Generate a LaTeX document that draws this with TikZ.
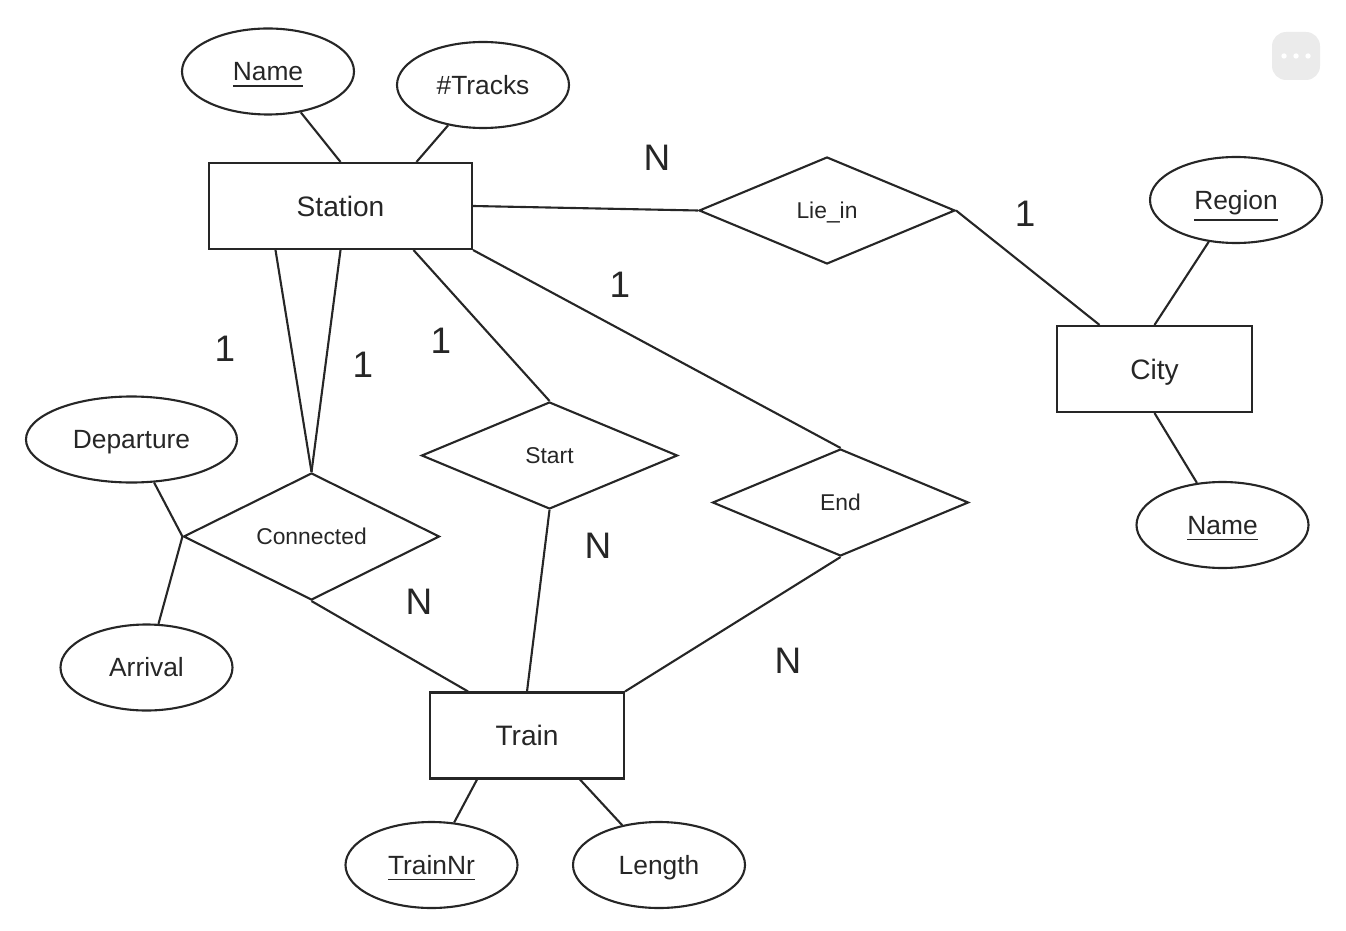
\documentclass[tikz,border=0pt]{standalone}
\usepackage{fontspec}
\setmainfont{Liberation Sans}
\usetikzlibrary{shapes.geometric}

\begin{document}
\begin{tikzpicture}[line width=0.6pt, color=black!85,
    entity/.style={draw, rectangle, minimum width=2.63cm, minimum height=0.86cm, inner sep=0pt, text height=5.7pt, text depth=0pt, font=\fontsize{8}{9}\selectfont},
    attr/.style={draw, ellipse, minimum width=1.72cm, minimum height=0.86cm, inner sep=0pt, text height=5.4pt, text depth=0pt, font=\fontsize{7.5}{9}\selectfont},
    rel/.style={draw, diamond, minimum width=2.56cm, minimum height=1.07cm, inner sep=0pt, text height=4.7pt, text depth=0pt, font=\fontsize{6.5}{8}\selectfont},
    card/.style={font=\fontsize{10.5}{12}\selectfont}]
    \useasboundingbox (0,0) rectangle (13.46,-9.30);
    \node[entity] (station) at (3.405,-2.06) {Station};
    \node[entity, minimum width=1.95cm] (city) at (11.545,-3.69) {City};
    \node[entity, minimum width=1.94cm] (train) at (5.27,-7.355) {Train};
    \node[attr] (sname) at (2.68,-0.715) {\underline{Name}};
    \node[attr] (tracks) at (4.83,-0.85) {\#Tracks};
    \node[attr] (region) at (12.36,-2.0) {\underline{Region}};
    \node[attr] (cname) at (12.225,-5.25) {\underline{Name}};
    \node[attr, minimum width=2.11cm] (dep) at (1.315,-4.395) {Departure};
    \node[attr] (arr) at (1.465,-6.675) {Arrival};
    \node[attr] (trainnr) at (4.315,-8.65) {\underline{TrainNr}};
    \node[attr] (length) at (6.59,-8.65) {Length};
    \node[rel] (liein) at (8.27,-2.105) {Lie\_in};
    \node[rel] (conn) at (3.115,-5.365) {Connected};
    \node[rel] (start) at (5.495,-4.555) {Start};
    \node[rel] (end) at (8.405,-5.025) {End};
    % attributes
    \draw (sname) -- (station.north);
    \draw (tracks) -- ([xshift=0.76cm]station.north);
    \draw (region) -- (city.north);
    \draw (city.south) -- (cname);
    \draw (dep) -- (conn.west);
    \draw (arr) -- (conn.west);
    \draw ([xshift=-0.5cm]train.south) -- (trainnr);
    \draw ([xshift=0.53cm]train.south) -- (length);
    % relationships
    \draw (station.east) -- (liein.west);
    \draw (liein.east) -- ([xshift=-0.55cm]city.north);
    \draw ([xshift=-0.65cm]station.south) -- (conn.north);
    \draw (station.south) -- (conn.north);
    \draw ([xshift=0.73cm]station.south) -- (start.north);
    \draw (station.south east) -- (end.north);
    \draw (conn.south) -- ([xshift=-0.59cm]train.north);
    \draw (start.south) -- (train.north);
    \draw (end.south) -- (train.north east);
    % cardinalities
    \node[card] (cN1) at (6.57,-1.58) {N};
    \node[card] (c11) at (10.25,-2.14) {1};
    \node[card] (c12) at (6.20,-2.85) {1};
    \node[card] (c13) at (2.25,-3.49) {1};
    \node[card] (c14) at (3.63,-3.65) {1};
    \node[card] (c15) at (4.41,-3.41) {1};
    \node[card] (cN2) at (5.98,-5.46) {N};
    \node[card] (cN3) at (4.19,-6.02) {N};
    \node[card] (cN4) at (7.88,-6.61) {N};
    % menu button
    \node[fill=black!8, rounded corners=4pt, minimum size=0.48cm, inner sep=0pt] (menu) at (12.96,-0.56) {};
    \foreach \dx in {-0.12,0,0.12}
        \fill[white] ([xshift=\dx cm]menu.center) circle (0.027);
\end{tikzpicture}
\end{document}
